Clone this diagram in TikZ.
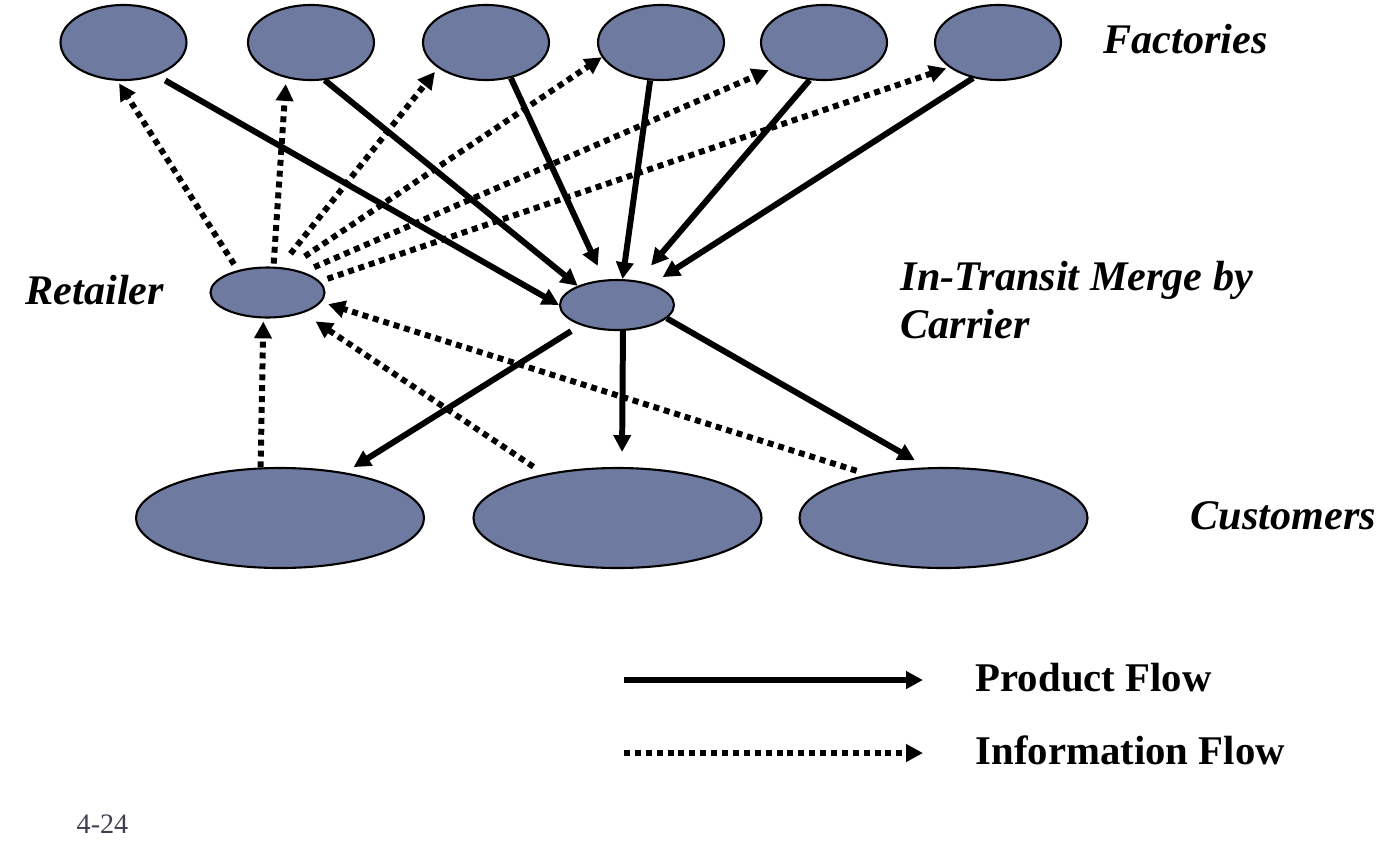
\documentclass[tikz,border=0pt]{standalone}
\usepackage{fontspec}
\setmainfont{Liberation Serif}
\usepackage{xcolor}
\usepackage{tikz}
\usetikzlibrary{arrows.meta,shapes.geometric}

\definecolor{siteblue}{RGB}{111,122,160}
\definecolor{pagegray}{RGB}{64,64,80}

\begin{document}
\begin{tikzpicture}[
		site/.style={ellipse,draw=black,line width=0.6pt,fill=siteblue,inner sep=0pt},
		factory/.style={site,minimum width=1.26cm,minimum height=0.75cm},
		hub/.style={site,minimum width=1.14cm,minimum height=0.50cm},
		customer/.style={site,minimum width=2.88cm,minimum height=1.00cm},
		lbl/.style={font=\fontsize{12}{14}\selectfont\bfseries\itshape,inner sep=0pt,anchor=west},
		legend/.style={font=\fontsize{11.6}{14}\selectfont\bfseries,inner sep=0pt,anchor=west},
		product/.style={line width=1.7pt,-{Triangle[length=4.8pt,width=4.8pt]}},
		info/.style={product,dash pattern=on 1.7pt off 1.4pt}
	]
					\useasboundingbox (0,0) rectangle (14,8.59);
					% factories
					\node[factory] (f1) at (1.235,8.165) {};
					\node[factory] (f2) at (3.11,8.165) {};
					\node[factory] (f3) at (4.86,8.165) {};
					\node[factory] (f4) at (6.61,8.165) {};
					\node[factory] (f5) at (8.24,8.165) {};
					\node[factory] (f6) at (9.98,8.165) {};
					\node[hub] (ret) at (2.675,5.665) {};
					\node[hub] (merge) at (6.17,5.54) {};
					% customers
					\node[customer] (c1) at (2.80,3.41) {};
					\node[customer] (c2) at (6.175,3.41) {};
					\node[customer] (c3) at (9.435,3.41) {};
					\node[lbl] (Factories) at (11.03,8.20) {Factories};
					\node[lbl] (Retailer) at (0.25,5.69) {Retailer};
					\node[lbl,anchor=base west] (Merge) at (9.0,5.69) {In-Transit Merge by};
					\node[lbl,anchor=base west] (Carrier) at (9.0,5.21) {Carrier};
					\node[lbl] (Customers) at (11.90,3.43) {Customers};
					% product flow
					\draw[product,shorten <=0.10cm] (f1.-45) -- (merge.180);
					\draw[product] (f2.-70) -- (merge.154);
					\draw[product,shorten >=0.15cm] (f3.-55) -- (merge.117);
					\draw[product] (f4.-106) -- (merge.78);
					\draw[product,shorten >=0.20cm] (f5.-111) -- (merge.49);
					\draw[product,shorten >=0.13cm] (f6.-125) -- (merge.31);
					\draw[product,shorten <=0.11cm,shorten >=0.10cm] (merge.-151) -- (c1.35);
					\draw[product,shorten >=0.15cm] (merge.-77) -- (c2.85);
					\draw[product,shorten >=0.14cm] (merge.-15) -- (c3.108);
					% information flow
					\draw[info,shorten <=0.07cm,shorten >=0.03cm] (ret.143) -- (f1.-99);
					\draw[info,shorten <=0.03cm,shorten >=0.06cm] (ret.77) -- (f2.-125);
					\draw[info,shorten <=0.17cm,shorten >=0.05cm] (ret.64) -- (f3.-152);
					\draw[info,shorten <=0.21cm] (ret.51) -- (f4.-166);
					\draw[info,shorten <=0.12cm,shorten >=0.07cm] (ret.30) -- (f5.-153);
					\draw[info,shorten <=0.08cm,shorten >=0.03cm] (ret.12) -- (f6.-153);
					\draw[info,shorten >=0.03cm] (c1.111) -- (ret.-99);
					\draw[info,shorten <=0.13cm,shorten >=0.15cm] (c2.149) -- (ret.-30);
					\draw[info,shorten <=0.12cm,shorten >=0.07cm] (c3.150) -- (ret.-10);
					% legend
					\node[legend] (ProductFlow) at (9.75,1.81) {Product Flow};
					\node[legend] (InfoFlow) at (9.75,1.09) {Information Flow};
					\coordinate (ps) at (6.24,1.79);
					\coordinate (pe) at (9.23,1.79);
					\coordinate (is) at (6.24,1.06);
					\coordinate (ie) at (9.23,1.06);
					\draw[product] (ps) -- (pe);
					\draw[info] (is) -- (ie);
					\node[inner sep=0pt,anchor=west] (page) at (0.76,0.35) {\fontsize{8}{9}\selectfont\color{pagegray} 4-24};
				\end{tikzpicture}
\end{document}
